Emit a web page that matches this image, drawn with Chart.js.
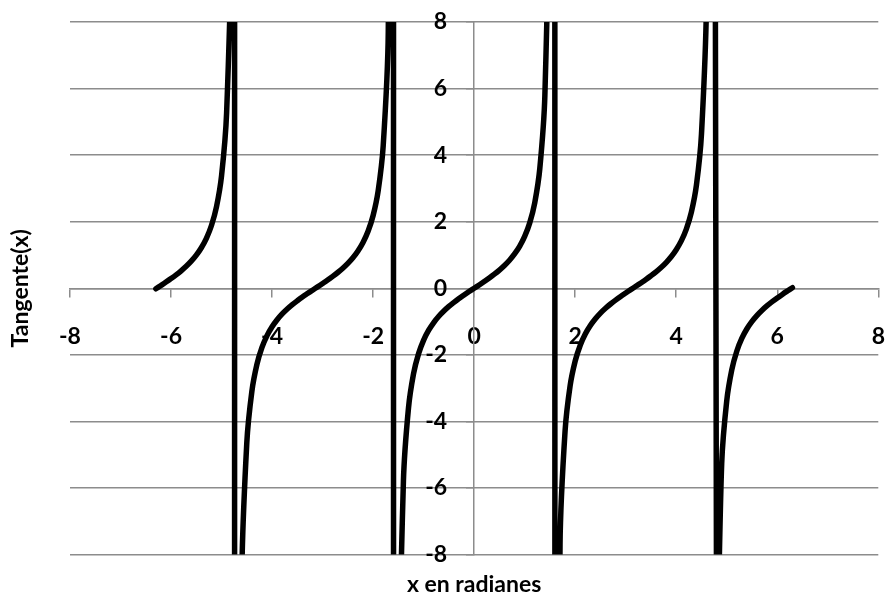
<!DOCTYPE html>
<html>
<head>
<meta charset="utf-8">
<script src="https://cdn.jsdelivr.net/npm/chart.js@4"></script>
<style>
html,body{margin:0;padding:0;background:#ffffff;}
#wrap{width:885px;height:601px;}
</style>
</head>
<body>
<div id="wrap"><canvas id="c" width="885" height="601"></canvas></div>
<script>
// x values (radians)
const xValues = [
  -6.3,-6.2,-6.1,-6.0,-5.9,-5.8,-5.7,-5.6,-5.5,-5.4,-5.3,-5.2,-5.1,-5.0,-4.9,-4.8,
  -4.74,-4.74,
  -4.7,-4.6,-4.5,-4.4,-4.3,-4.2,-4.1,-4.0,-3.9,-3.8,-3.7,-3.6,-3.5,-3.4,-3.3,-3.2,
  -3.1,-3.0,-2.9,-2.8,-2.7,-2.6,-2.5,-2.4,-2.3,-2.2,-2.1,-2.0,-1.9,-1.8,-1.7,-1.6,
  -1.59,-1.59,
  -1.5,-1.4,-1.3,-1.2,-1.1,-1.0,-0.9,-0.8,-0.7,-0.6,-0.5,-0.4,-0.3,-0.2,-0.1,
  0,
  0.1,0.2,0.3,0.4,0.5,0.6,0.7,0.8,0.9,1.0,1.1,1.2,1.3,1.4,1.5,
  1.6,
  1.6,1.7,1.8,1.9,2.0,2.1,2.2,2.3,2.4,2.5,2.6,2.7,2.8,2.9,3.0,3.1,
  3.2,3.3,3.4,3.5,3.6,3.7,3.8,3.9,4.0,4.1,4.2,4.3,4.4,4.5,4.6,4.7,
  4.8,4.9,5.0,5.1,5.2,5.3,5.4,5.5,5.6,5.7,5.8,5.9,6.0,6.1,6.2,6.3
];
// tangent values (values beyond +/-8 leave the plot)
const yValues = [
  -0.017,0.083,0.185,0.291,0.403,0.525,0.660,0.814,0.996,1.218,1.501,1.885,2.449,3.381,5.268,11.386,
  60,-60,
  -80.7,-8.860,-4.637,-3.096,-2.286,-1.778,-1.423,-1.158,-0.947,-0.773,-0.625,-0.493,-0.375,-0.264,-0.160,-0.058,
  0.042,0.143,0.246,0.356,0.473,0.602,0.747,0.916,1.119,1.374,1.710,2.185,2.927,4.286,7.697,34.233,
  60,-60,
  -14.101,-5.798,-3.602,-2.572,-1.965,-1.557,-1.260,-1.030,-0.842,-0.684,-0.546,-0.423,-0.309,-0.203,-0.100,
  0,
  0.100,0.203,0.309,0.423,0.546,0.684,0.842,1.030,1.260,1.557,1.965,2.572,3.602,5.798,14.101,
  60,
  -34.233,-7.697,-4.286,-2.927,-2.185,-1.710,-1.374,-1.119,-0.916,-0.747,-0.602,-0.473,-0.356,-0.246,-0.143,-0.042,
  0.058,0.160,0.264,0.375,0.493,0.625,0.773,0.947,1.158,1.423,1.778,2.286,3.096,4.637,8.860,80.7,
  -11.386,-5.268,-3.381,-2.449,-1.885,-1.501,-1.218,-0.996,-0.814,-0.660,-0.525,-0.403,-0.291,-0.185,-0.083,0.017
];
const xAxisRange = [-8, 8];
const yAxisRange = [-8, 8];
const tickStep = 2;
const xTitle = 'x en radianes';
const yTitle = 'Tangente(x)';

const points = xValues.map((x, i) => ({ x: x, y: yValues[i] }));

const FAMILY = 'Lato, "Open Sans", "DejaVu Sans", sans-serif';
Chart.defaults.font.family = FAMILY;
Chart.defaults.font.weight = 'bold';
Chart.defaults.font.size = 23;
Chart.defaults.color = '#000000';

const gridColor = '#8c8c8c';

new Chart(document.getElementById('c'), {
  type: 'scatter',
  data: {
    datasets: [{
      data: points,
      showLine: true,
      borderColor: '#000000',
      backgroundColor: '#000000',
      borderWidth: 5.5,
      pointRadius: 0,
      pointHoverRadius: 0,
      tension: 0.35,
      clip: 0,
      borderCapStyle: 'round',
      borderJoinStyle: 'round'
    }]
  },
  options: {
    responsive: false,
    maintainAspectRatio: false,
    animation: false,
    devicePixelRatio: 1,
    events: [],
    layout: { padding: { top: 22, right: 6.7, left: 0, bottom: 0 } },
    plugins: {
      legend: { display: false },
      tooltip: { enabled: false },
      title: {
        display: true, text: xTitle, position: 'bottom', fullSize: false,
        padding: { top: 15.8, bottom: 3.1 },
        font: { family: FAMILY, size: 23, weight: 'bold', lineHeight: 1.2 },
        color: '#000000'
      },
      subtitle: {
        display: true, text: yTitle, position: 'left', fullSize: false,
        padding: { top: 6.9, bottom: 35.5 },
        font: { family: FAMILY, size: 23, weight: 'bold', lineHeight: 1.2 },
        color: '#000000'
      }
    },
    scales: {
      x: {
        type: 'linear',
        position: 'center',
        min: xAxisRange[0], max: xAxisRange[1],
        ticks: {
          stepSize: tickStep, padding: 0, maxRotation: 0, autoSkip: false,
          color: '#000000',
          font: { family: FAMILY, size: 23, weight: 'bold', lineHeight: 3.5 }
        },
        grid: { display: true, drawOnChartArea: false, drawTicks: true, tickLength: 8, color: gridColor, lineWidth: 1.5 },
        border: { display: true, color: gridColor, width: 1.5 }
      },
      y: {
        type: 'linear',
        position: 'center',
        min: yAxisRange[0], max: yAxisRange[1],
        ticks: {
          stepSize: tickStep, padding: 20,
          color: '#000000',
          font: { family: FAMILY, size: 23, weight: 'bold', lineHeight: 0.05 }
        },
        grid: { display: true, drawOnChartArea: true, drawTicks: true, tickLength: 7, color: gridColor, lineWidth: 1.5 },
        border: { display: true, color: gridColor, width: 1.5 }
      }
    }
  }
});
</script>
</body>
</html>
